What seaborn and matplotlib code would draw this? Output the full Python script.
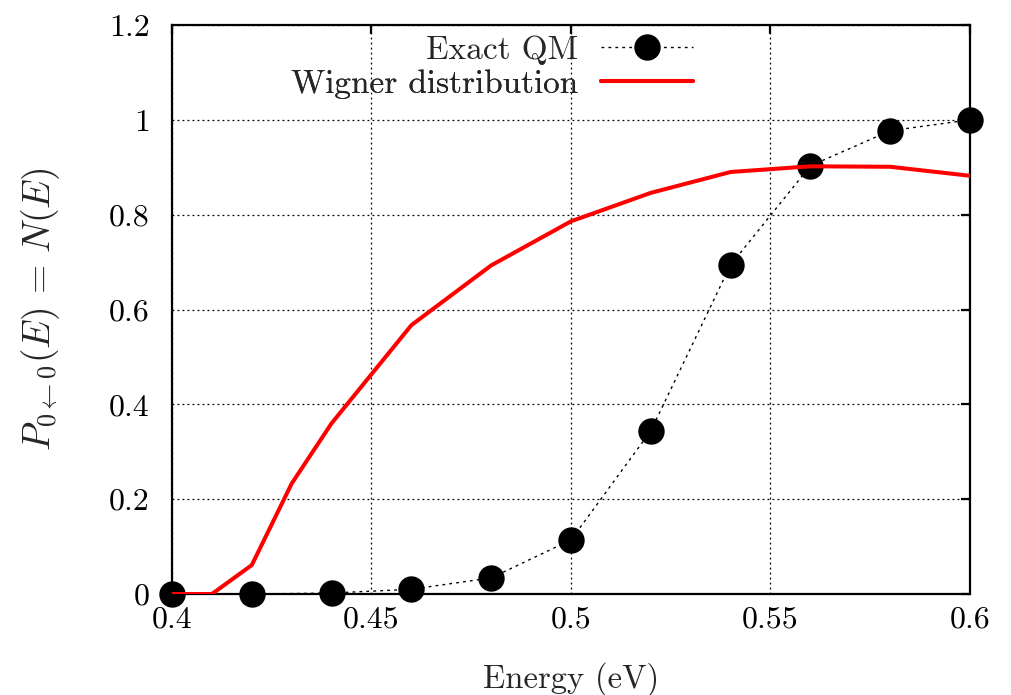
import numpy as np
import pandas as pd
import matplotlib
matplotlib.use("Agg")
import matplotlib.pyplot as plt
import seaborn as sns

# Exact quantum-mechanical reaction probability
qm_energy = [0.40, 0.42, 0.44, 0.46, 0.48, 0.50, 0.52, 0.54, 0.56, 0.58, 0.60]
qm_prob = [0.0, 0.0, 0.002, 0.010, 0.034, 0.114, 0.344, 0.694, 0.903, 0.977, 1.0]

# Wigner-distribution (classical) result
wig_energy = [0.40, 0.41, 0.42, 0.43, 0.44, 0.46, 0.48, 0.50, 0.52, 0.54, 0.56, 0.58, 0.60]
wig_prob = [0.0, 0.0, 0.061, 0.233, 0.360, 0.567, 0.693, 0.786, 0.846, 0.890, 0.902, 0.901, 0.882]

x_ticks = [0.4, 0.45, 0.5, 0.55, 0.6]
x_ticklabels = ["0.4", "0.45", "0.5", "0.55", "0.6"]
y_ticks = [0, 0.2, 0.4, 0.6, 0.8, 1.0, 1.2]
y_ticklabels = ["0", "0.2", "0.4", "0.6", "0.8", "1", "1.2"]

sns.set_style("white")
plt.rcParams["font.family"] = ["cmr10", "DejaVu Serif"]
plt.rcParams["mathtext.fontset"] = "cm"
plt.rcParams["axes.formatter.use_mathtext"] = True
plt.rcParams["axes.unicode_minus"] = False

FS = 23

fig = plt.figure(figsize=(10.12, 6.95), dpi=100)
ax = fig.add_axes([172 / 1012, 1 - 594 / 695, (970 - 172) / 1012, (594 - 25) / 695])

qm_df = pd.DataFrame({"E": qm_energy, "P": qm_prob})
wig_df = pd.DataFrame({"E": wig_energy, "P": wig_prob})

sns.lineplot(data=qm_df, x="E", y="P", ax=ax, color="black", lw=1.0,
             linestyle=(0, (2, 3)), marker="o", markersize=19,
             markeredgewidth=0, markerfacecolor="black", legend=False,
             zorder=6, clip_on=False)
qm_line = ax.lines[-1]
sns.lineplot(data=wig_df, x="E", y="P", ax=ax, color="#ff0000", lw=2.9,
             legend=False, zorder=7)
wig_line = ax.lines[-1]

ax.set_xlim(0.4, 0.6)
ax.set_ylim(0, 1.2)
ax.set_xticks(x_ticks)
ax.set_xticklabels(x_ticklabels)
ax.set_yticks(y_ticks)
ax.set_yticklabels(y_ticklabels)

ax.grid(True, color="black", linestyle=(0, (1.5, 2.5)), lw=0.9)
ax.set_axisbelow(True)
for sp in ax.spines.values():
    sp.set_visible(True)
    sp.set_color("black")
    sp.set_linewidth(1.6)
    sp.set_zorder(5)

ax.tick_params(axis="both", direction="in", length=6.5, width=1.6,
               top=True, right=True, labelsize=FS, colors="black")
ax.tick_params(axis="x", pad=9)
ax.tick_params(axis="y", pad=16)

ax.set_xlabel("Energy (eV)", fontsize=FS + 0.5, labelpad=20)
ax.set_ylabel(r"$P_{0\leftarrow 0}(E)\,=\,N(E)$", fontsize=27, labelpad=34)

# Two single-entry legends so the labels are right-aligned next to the keys
for handle, label, ycen in [(qm_line, "Exact QM", 50), (wig_line, "Wigner distribution", 84)]:
    leg = ax.legend([handle], [label], loc="center right",
                    bbox_to_anchor=(693 / 1012, 1 - ycen / 695),
                    bbox_transform=fig.transFigure, frameon=False,
                    markerfirst=False, fontsize=24, borderpad=0,
                    borderaxespad=0, handlelength=2.75, handletextpad=0.7,
                    numpoints=1)
    ax.add_artist(leg)

fig.savefig("out.png", dpi=100, facecolor="white")
